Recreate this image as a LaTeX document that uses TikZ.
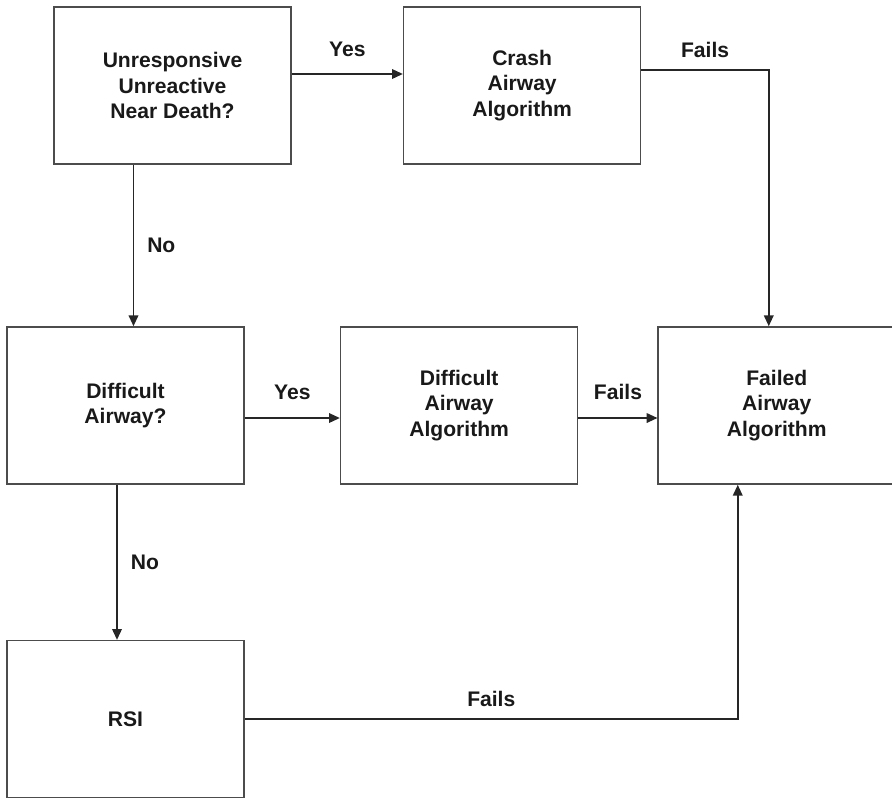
\documentclass[tikz,border=0pt]{standalone}
\usepackage{fontspec}
\setmainfont{Liberation Sans}
\usetikzlibrary{positioning, arrows.meta}

\begin{document}
\begin{tikzpicture}[x=0.025cm, y=-0.025cm, >={Triangle[length=0.27cm, width=0.24cm]}, line width=1.1pt,
  font=\fontsize{15}{18.1}\selectfont\bfseries,
  box/.style={draw=black!70, minimum width=5.925cm, minimum height=3.925cm, inner sep=0pt, align=center, text=black!90},
  lbl/.style={inner sep=0pt, text=black!90},
  link/.style={->, draw=black!85}]
  \useasboundingbox (0,0) rectangle (892,797);

  \node[box] (unresp)              at (172.5,85.5)       {Unresponsive\\Unreactive\\Near Death?};
  \node[box] (crash)  [right=2.775cm of unresp]         {Crash\\Airway\\Algorithm};
  \node[box] (diff)                at (125.5,405.5)      {Difficult\\Airway?};
  \node[box] (daa)    [right=2.375cm of diff]           {Difficult\\Airway\\Algorithm};
  \node[box] (failed) [right=1.975cm of daa]            {Failed\\Airway\\Algorithm};
  \node[box] (rsi)    [below=3.875cm of diff]           {RSI};

  \draw[link] ([yshift=0.2875cm]unresp.east) -- node[lbl, above=0.42cm] {Yes} ([yshift=0.2875cm]crash.west);
  \draw[link] ([xshift=-0.975cm]unresp.south) -- node[lbl, right=0.325cm] {No} ([xshift=-0.975cm]unresp.south |- diff.north);
  \draw[link] ([yshift=0.3875cm]crash.east) -| node[lbl, pos=0.25, above=0.3cm] {Fails} ([xshift=-0.2cm]failed.north);
  \draw[link] ([yshift=-0.3125cm]diff.east) -- node[lbl, above=0.43cm] {Yes} ([yshift=-0.3125cm]daa.west);
  \draw[link] ([yshift=-0.3125cm]daa.east) -- node[lbl, above=0.43cm] {Fails} ([yshift=-0.3125cm]failed.west);
  \draw[link] ([xshift=-0.2125cm]diff.south) -- node[lbl, right=0.325cm] {No} ([xshift=-0.2125cm]rsi.north);
  \draw[link] (rsi.east) -| node[lbl, pos=0.25, above=0.3cm] {Fails} ([xshift=-0.975cm]failed.south);
\end{tikzpicture}
\end{document}
